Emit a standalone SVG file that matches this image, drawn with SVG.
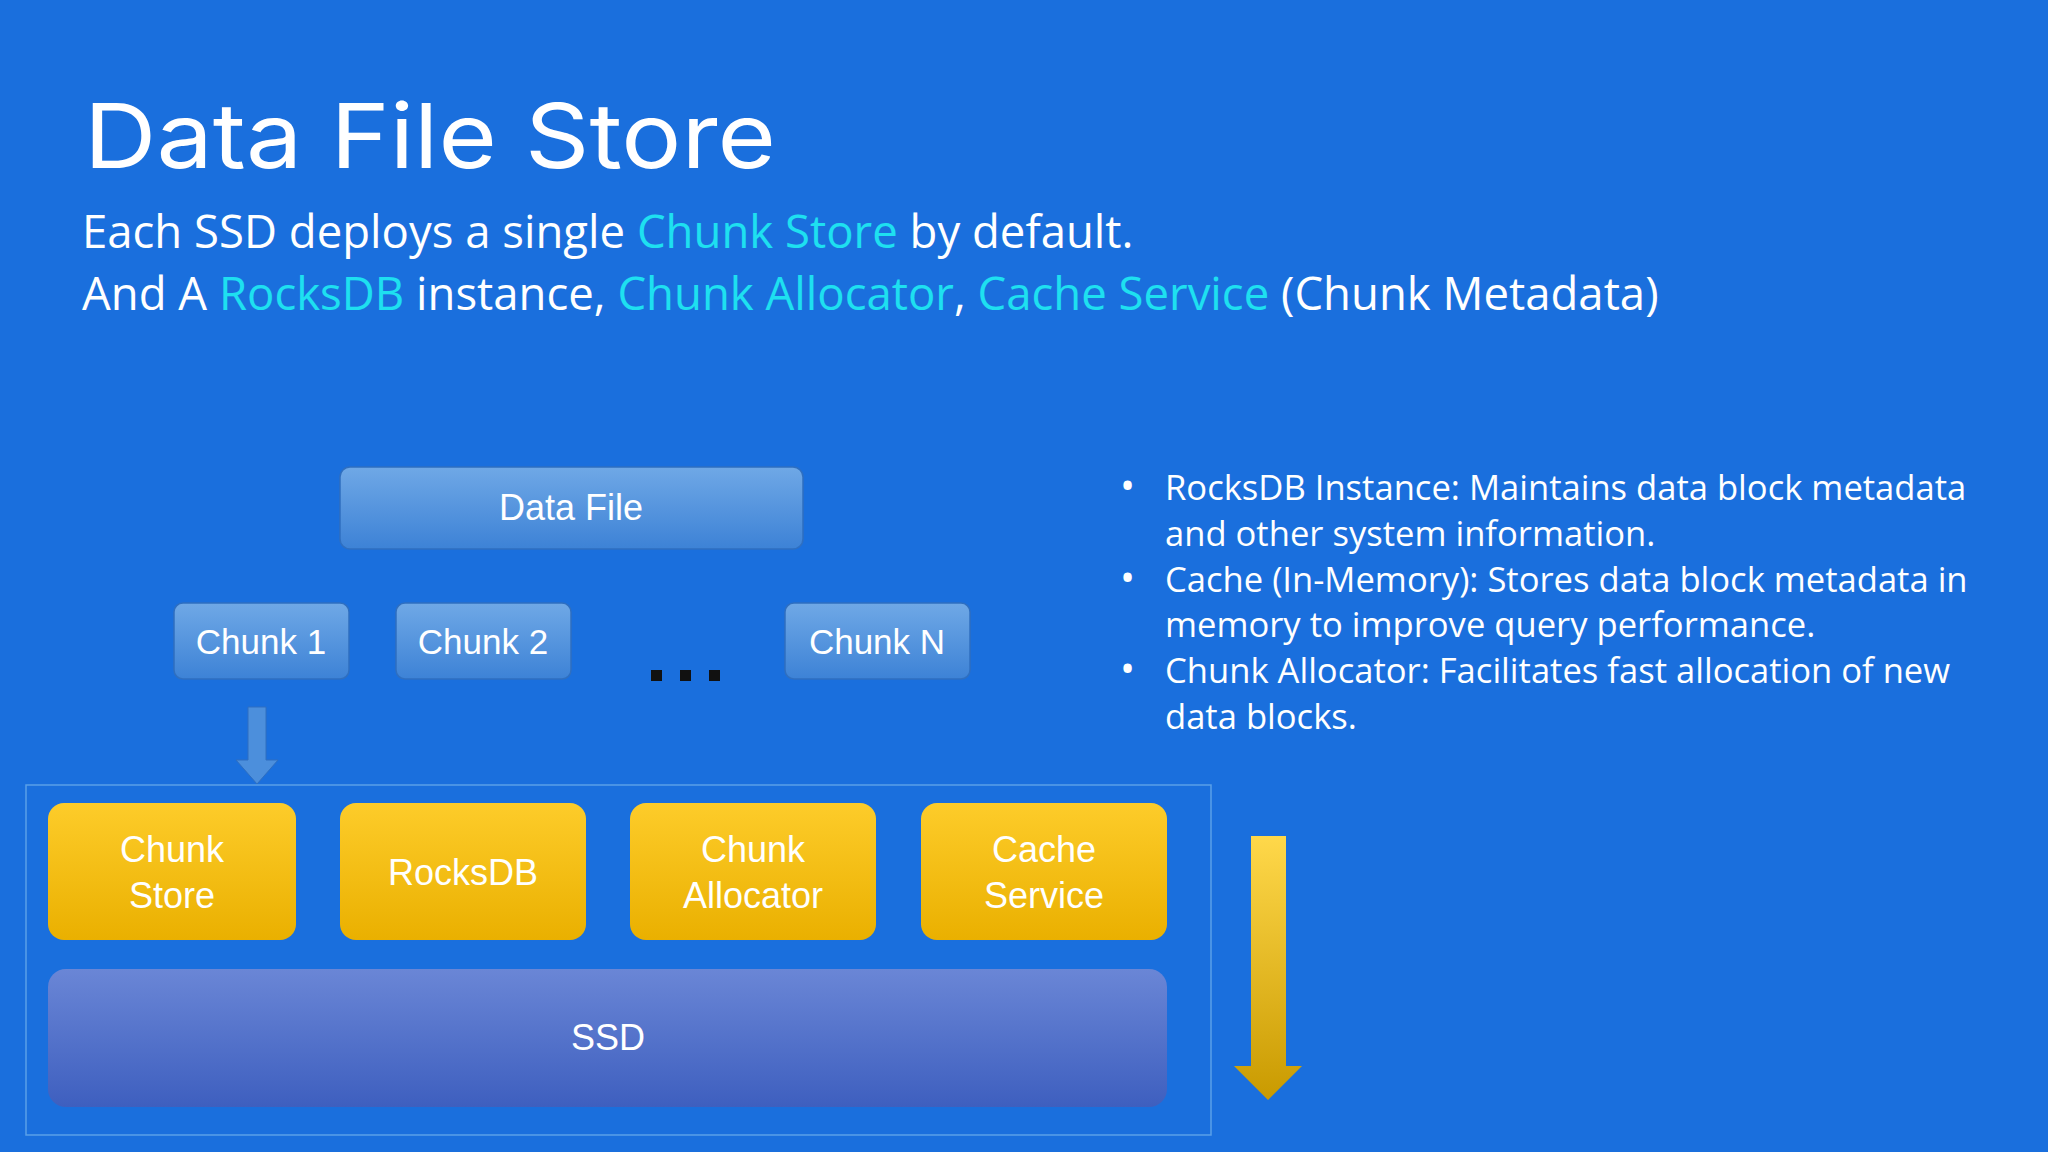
<svg xmlns="http://www.w3.org/2000/svg" width="2048" height="1152" viewBox="0 0 2048 1152">
<defs>
<linearGradient id="gb" x1="0" y1="0" x2="0" y2="1"><stop offset="0" stop-color="#6fa8e6"/><stop offset="1" stop-color="#3d82d6"/></linearGradient>
<linearGradient id="gy" x1="0" y1="0" x2="0" y2="1"><stop offset="0" stop-color="#fdcc2a"/><stop offset="1" stop-color="#eab000"/></linearGradient>
<linearGradient id="gs" x1="0" y1="0" x2="0" y2="1"><stop offset="0" stop-color="#6a86d6"/><stop offset="1" stop-color="#3e5fbf"/></linearGradient>
<linearGradient id="ga" x1="0" y1="0" x2="0" y2="1"><stop offset="0" stop-color="#ffd84a"/><stop offset="1" stop-color="#c99a00"/></linearGradient>
<style>
.bl{fill:url(#gb);stroke:#2f6fc0;stroke-width:1.5}
.ye{fill:url(#gy)}
.t{font-family:"Liberation Sans",Arial,sans-serif;fill:#fff;text-anchor:middle}
.b{font-family:"Open Sans","Noto Sans",sans-serif;fill:#fff}
.c{fill:#1ee0f0}
</style>
</defs>
<rect width="2048" height="1152" fill="#1a6fdd"/>
<text x="84" y="168" font-family="Inter,Lato,sans-serif" font-size="90" fill="#fff" textLength="692" lengthAdjust="spacingAndGlyphs">Data File Store</text>
<text class="b" x="82" y="248" font-size="45.5">Each SSD deploys a single <tspan class="c">Chunk Store</tspan> by default.</text>
<text class="b" x="82" y="310" font-size="45.5">And A <tspan class="c">RocksDB</tspan> instance, <tspan class="c">Chunk Allocator</tspan>, <tspan class="c">Cache Service</tspan> (Chunk Metadata)</text>
<g id="datafile"><rect class="bl" x="340" y="467" width="463" height="82" rx="10"/><text class="t" x="571" y="520" font-size="36">Data File</text></g>
<g id="chunk1"><rect class="bl" x="174" y="603" width="175" height="76" rx="9"/><text class="t" x="261" y="654" font-size="35">Chunk 1</text></g>
<g id="chunk2"><rect class="bl" x="396" y="603" width="175" height="76" rx="9"/><text class="t" x="483" y="654" font-size="35">Chunk 2</text></g>
<g id="dots"><rect x="651" y="670" width="11" height="11" fill="#111"/><rect x="680" y="670" width="11" height="11" fill="#111"/><rect x="709" y="670" width="11" height="11" fill="#111"/></g>
<g id="chunkN"><rect class="bl" x="785" y="603" width="185" height="76" rx="9"/><text class="t" x="877" y="654" font-size="35">Chunk N</text></g>
<g id="connectors">
<polygon points="248,707 266,707 266,760 278,760 257,784 236,760 248,760" fill="#4c8fdc" stroke="#2f6fc0"/>
<polygon points="1251,836 1286,836 1286,1066 1302,1066 1268,1100 1234,1066 1251,1066" fill="url(#ga)"/>
</g>
<g id="container"><rect x="26" y="785" width="1185" height="350" fill="none" stroke="#5aa0e8" stroke-width="1.5"/></g>
<g id="chunkstore"><rect class="ye" x="48" y="803" width="248" height="137" rx="16"/><text class="t" x="172" y="862" font-size="36">Chunk</text><text class="t" x="172" y="908" font-size="36">Store</text></g>
<g id="rocksdb"><rect class="ye" x="340" y="803" width="246" height="137" rx="16"/><text class="t" x="463" y="885" font-size="36">RocksDB</text></g>
<g id="allocator"><rect class="ye" x="630" y="803" width="246" height="137" rx="16"/><text class="t" x="753" y="862" font-size="36">Chunk</text><text class="t" x="753" y="908" font-size="36">Allocator</text></g>
<g id="cache"><rect class="ye" x="921" y="803" width="246" height="137" rx="16"/><text class="t" x="1044" y="862" font-size="36">Cache</text><text class="t" x="1044" y="908" font-size="36">Service</text></g>
<g id="ssd"><rect x="48" y="969" width="1119" height="138" rx="18" fill="url(#gs)"/><text class="t" x="608" y="1050" font-size="36">SSD</text></g>
<g id="notes" class="b" font-size="34.6">
<text x="1120" y="500" font-size="40">•</text><text x="1165" y="500">RocksDB Instance: Maintains data block metadata</text>
<text x="1165" y="546">and other system information.</text>
<text x="1120" y="592" font-size="40">•</text><text x="1165" y="592">Cache (In-Memory): Stores data block metadata in</text>
<text x="1165" y="637">memory to improve query performance.</text>
<text x="1120" y="683" font-size="40">•</text><text x="1165" y="683">Chunk Allocator: Facilitates fast allocation of new</text>
<text x="1165" y="729">data blocks.</text>
</g>
</svg>
